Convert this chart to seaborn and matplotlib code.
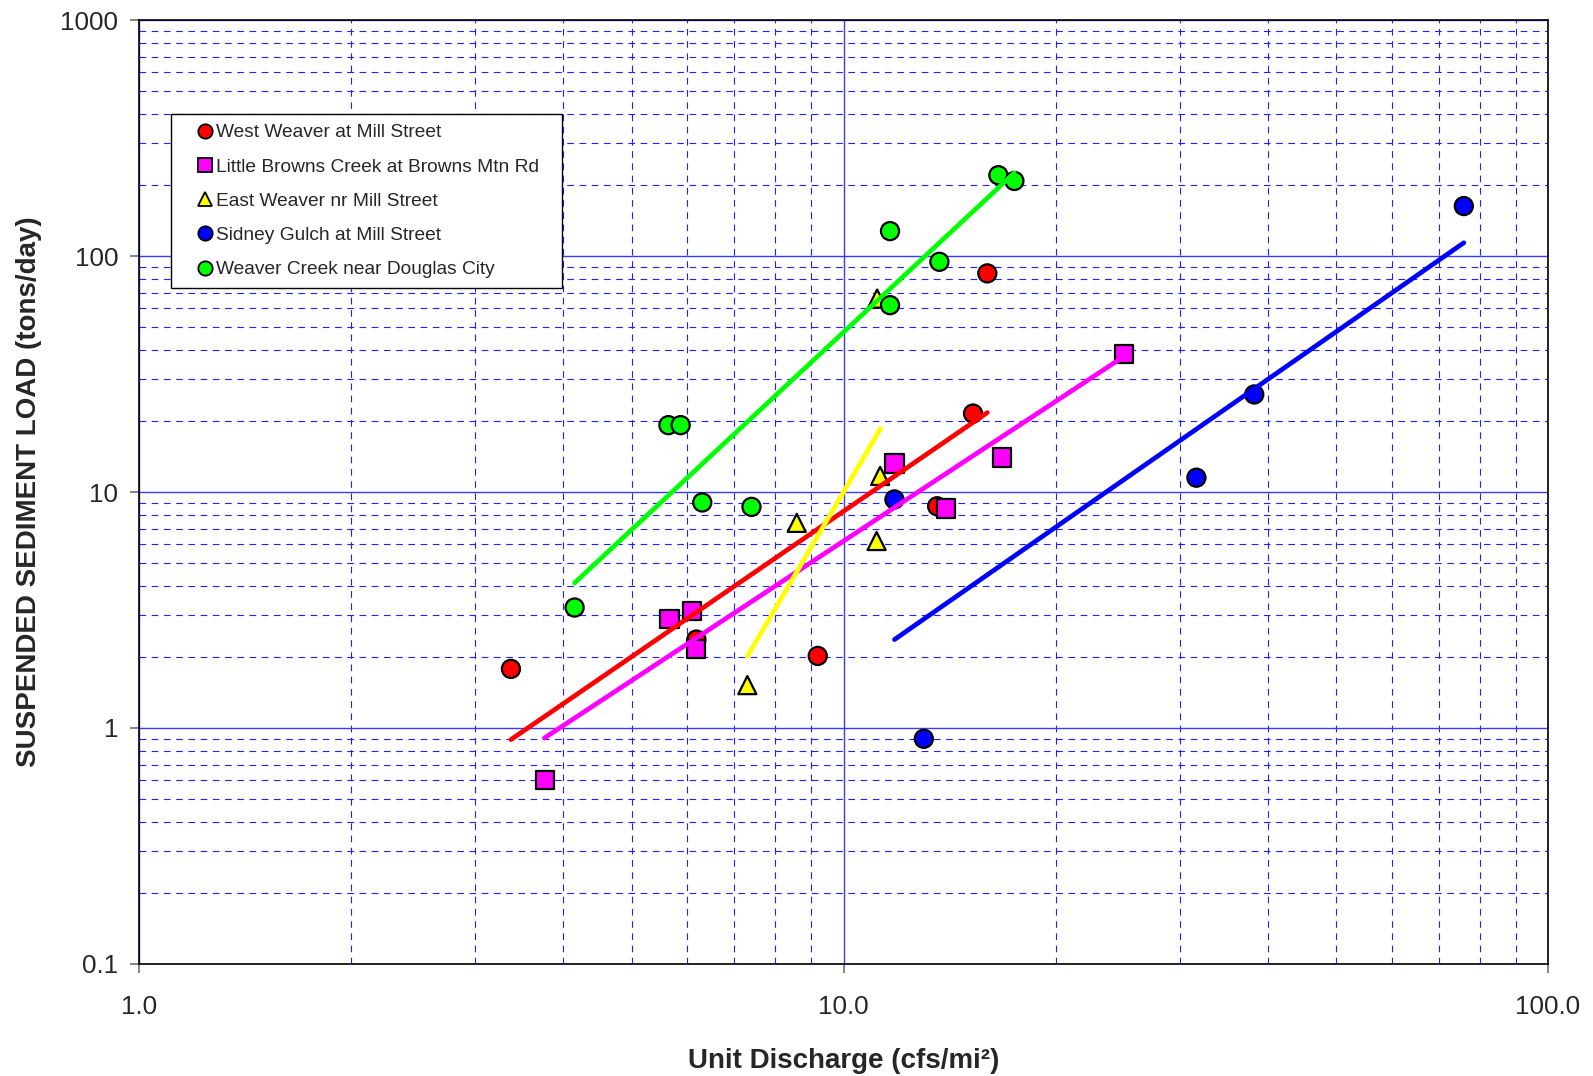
import numpy as np
import pandas as pd
import matplotlib
matplotlib.use("Agg")
import matplotlib.pyplot as plt
from matplotlib.ticker import FixedLocator, NullFormatter
from matplotlib.lines import Line2D
from matplotlib.legend_handler import HandlerLine2D
import seaborn as sns

# site names
west = "West Weaver at Mill Street"
little = "Little Browns Creek at Browns Mtn Rd"
east = "East Weaver nr Mill Street"
sidney = "Sidney Gulch at Mill Street"
weaver = "Weaver Creek near Douglas City"

# measured points (unit discharge cfs/mi2, sediment load tons/day)
west_q = [3.37, 6.18, 9.19, 13.58, 15.27, 16.0]
west_load = [1.78, 2.37, 2.02, 8.7, 21.5, 84.4]

little_q = [3.77, 5.66, 6.09, 6.18, 11.81, 13.99, 16.80, 25.0]
little_load = [0.60, 2.89, 3.13, 2.17, 13.2, 8.51, 14.0, 38.6]

east_q = [7.30, 8.58, 11.14, 11.27, 11.16]
east_load = [1.52, 7.4, 6.2, 11.7, 66.0]

sidney_q = [13.0, 11.81, 31.7, 38.3, 76.0]
sidney_load = [0.90, 9.3, 11.5, 25.9, 162.8]

weaver_q = [4.15, 5.64, 5.87, 6.30, 7.40, 11.64, 11.64, 13.68, 16.59, 17.48]
weaver_load = [3.24, 19.2, 19.2, 9.03, 8.65, 61.9, 127.5, 94.5, 220.0, 208.0]

# power trend lines (end points)
west_fit_q = [3.37, 16.0]
west_fit_load = [0.893, 21.7]
little_fit_q = [3.76, 25.0]
little_fit_load = [0.907, 37.5]
east_fit_q = [7.30, 11.29]
east_fit_load = [2.01, 18.6]
sidney_fit_q = [11.81, 76.0]
sidney_fit_load = [2.37, 113.8]
weaver_fit_q = [4.15, 17.48]
weaver_fit_load = [4.12, 225.0]

sites = [west, little, east, sidney, weaver]
colors = {west: "#ff0000", little: "#ff00ff", east: "#ffff00",
          sidney: "#0000ff", weaver: "#00ff00"}
markers = {west: "o", little: "s", east: "^", sidney: "o", weaver: "o"}

frames = []
for name, q, load in [(west, west_q, west_load), (little, little_q, little_load),
                      (east, east_q, east_load), (sidney, sidney_q, sidney_load),
                      (weaver, weaver_q, weaver_load)]:
    frames.append(pd.DataFrame({"q": q, "load": load, "site": name}))
pts = pd.concat(frames, ignore_index=True)

sns.set_style("white")
plt.rcParams["font.family"] = ["Liberation Sans", "DejaVu Sans"]

fig = plt.figure(figsize=(15.93, 10.76), dpi=100)
ax = fig.add_axes([0.0875, 0.1041, 0.8841, 0.8773])

ax.set_xscale("log")
ax.set_yscale("log")
ax.set_xlim(1, 100)
ax.set_ylim(0.1, 1000)
ax.set_axisbelow(True)
ax.grid(True, which="major", color="#3a3aff", lw=1.0, ls="-")
ax.grid(True, which="minor", color="#2020ff", lw=0.8, ls=(0, (6, 5)))

sns.scatterplot(data=pts, x="q", y="load", hue="site", style="site",
                hue_order=sites, style_order=sites, palette=colors,
                markers=markers, s=170, edgecolor="black", linewidth=1.6,
                legend=False, ax=ax, zorder=3)

fits = [(west, west_fit_q, west_fit_load), (little, little_fit_q, little_fit_load),
        (east, east_fit_q, east_fit_load), (sidney, sidney_fit_q, sidney_fit_load),
        (weaver, weaver_fit_q, weaver_fit_load)]
for name, q, load in fits:
    ax.plot(q, load, color=colors[name], lw=3.4, solid_capstyle="round", zorder=4)

ax.xaxis.set_major_locator(FixedLocator([1, 10, 100]))
ax.set_xticklabels(["1.0", "10.0", "100.0"])
ax.yaxis.set_major_locator(FixedLocator([0.1, 1, 10, 100, 1000]))
ax.set_yticklabels(["0.1", "1", "10", "100", "1000"])
ax.xaxis.set_minor_formatter(NullFormatter())
ax.yaxis.set_minor_formatter(NullFormatter())
ax.tick_params(which="major", direction="out", length=6.3, width=1.2,
               color="#707070", labelsize=18.7, bottom=True, left=True)
ax.tick_params(axis="x", pad=16)
ax.tick_params(axis="y", pad=9)
ax.tick_params(which="minor", length=0)

for sp in ax.spines.values():
    sp.set_color("black")
    sp.set_linewidth(1.2)

ax.set_xlabel("Unit Discharge (cfs/mi²)", fontsize=20,
              fontweight="bold", labelpad=21)
ax.set_ylabel("SUSPENDED SEDIMENT LOAD (tons/day)", fontsize=20,
              fontweight="bold", labelpad=13)

handles = [Line2D([], [], ls="", marker=markers[n], markersize=10.3,
                  markerfacecolor=colors[n], markeredgecolor="black",
                  markeredgewidth=1.3, label=n) for n in sites]
leg = ax.legend(handles=handles, loc="upper left",
                bbox_to_anchor=(0.0223, 0.7166, 0.2777, 0.184), mode="expand",
                borderaxespad=0, fontsize=13.8, frameon=True, fancybox=False,
                edgecolor="black", framealpha=1, handlelength=1.29,
                handletextpad=0.56, labelspacing=0.88, borderpad=0.52,
                handler_map={Line2D: HandlerLine2D(numpoints=1, xpad=1.288)})
leg.get_frame().set_linewidth(1.0)

fig.savefig("out.png", dpi=100)
